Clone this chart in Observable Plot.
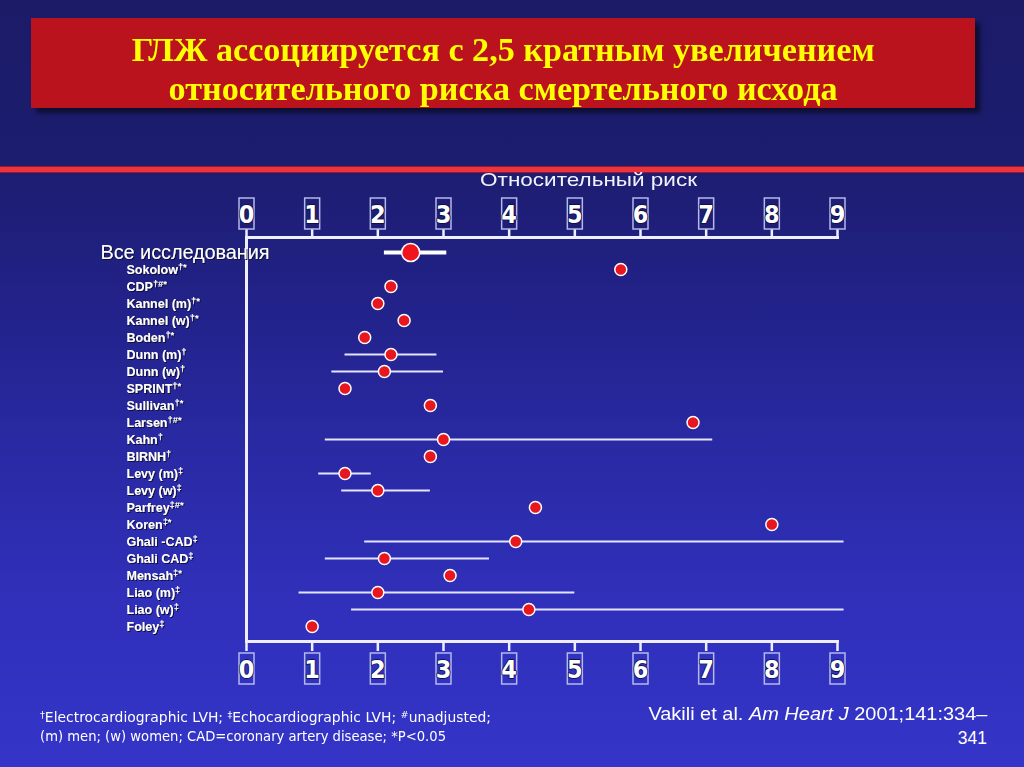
<!DOCTYPE html>
<html>
<head>
<meta charset="utf-8">
<script src="https://cdn.jsdelivr.net/npm/d3@7"></script>
<script src="https://cdn.jsdelivr.net/npm/@observablehq/plot@0.6"></script>
<style>
  html, body { margin:0; padding:0; }
  body {
    width:1024px; height:767px; overflow:hidden; position:relative;
    background: linear-gradient(to bottom, #1b1b68 0%, #1d1d70 22%, #22228a 40%, #2a2aa6 60%, #3030bc 80%, #3434c8 100%);
    font-family: "Liberation Sans", Arial, sans-serif;
  }
  #titlebox {
    position:absolute; left:31px; top:18px; width:944px; height:90px;
    background:#ba131d; box-shadow: 5px 5px 5px rgba(0,0,0,0.55);
  }
  .tline {
    position:absolute; left:0; width:944px; text-align:center;
    font-family:"Liberation Serif","Times New Roman",serif; font-weight:bold; font-size:33px;
    color:#ffff00; white-space:nowrap; line-height:1;
  }
  .tline span { display:inline-block; transform-origin:center; }
  #stripe {
    position:absolute; left:0; top:166px; width:1024px; height:5px;
    background:#ec343c; border-top:1px solid #9a1630; border-bottom:1px solid #9a1630;
  }
  #chart { position:absolute; left:0; top:0; }
  #xlabel {
    position:absolute; left:389px; width:400px; top:170px; text-align:center;
    font-size:19px; color:#f2f2ff; white-space:nowrap; line-height:1;
  }
  #xlabel span, .fn span, .cite span { display:inline-block; }
  .fn {
    position:absolute; left:40px; font-size:13.5px; color:#ffffff; white-space:nowrap; line-height:1;
    font-family:"Liberation Sans Narrow","DejaVu Sans Condensed","Liberation Sans",sans-serif;
  }
  .fn span { transform-origin:left center; }
  .fn sup { font-size:0.7em; vertical-align: 0.45em; line-height:0; }
  .cite {
    position:absolute; right:37px; font-size:17.5px; color:#ffffff; white-space:nowrap; line-height:1; text-align:right;
  }
  .cite span { transform-origin:right center; }
</style>
</head>
<body>
<div id="titlebox">
  <div class="tline" style="top:16px"><span id="t1"></span></div>
  <div class="tline" style="top:55px"><span id="t2"></span></div>
</div>
<div id="stripe"></div>
<div id="chart"></div>
<div id="xlabel"><span id="xl"></span></div>
<div class="fn" style="top:711px"><span id="fn1"></span></div>
<div class="fn" style="top:730px"><span id="fn2"></span></div>
<div class="cite" style="top:706px"><span id="c1"></span></div>
<div class="cite" style="top:730px"><span id="c2"></span></div>
<script>
// ---------- data ----------
const titleLines = ["ГЛЖ ассоциируется с 2,5 кратным увеличением", "относительного риска смертельного исхода"];
const axisTitle = "Относительный риск";
const tickValues = [0, 1, 2, 3, 4, 5, 6, 7, 8, 9];
const tickLabels = ["0", "1", "2", "3", "4", "5", "6", "7", "8", "9"];

const studies = ["Все исследования", "Sokolow", "CDP", "Kannel (m)", "Kannel (w)", "Boden", "Dunn (m)", "Dunn (w)",
  "SPRINT", "Sullivan", "Larsen", "Kahn", "BIRNH", "Levy (m)", "Levy (w)", "Parfrey", "Koren",
  "Ghali -CAD", "Ghali CAD", "Mensah", "Liao (m)", "Liao (w)", "Foley"];
const notes = ["", "†*", "†#*", "†*", "†*", "†*", "†", "†", "†*", "†*", "†#*", "†", "†", "‡", "‡", "‡#*", "‡*",
  "‡", "‡", "‡*", "‡", "‡", "‡"];
const riskRatio = [2.5, 5.7, 2.2, 2.0, 2.4, 1.8, 2.2, 2.1, 1.5, 2.8, 6.8, 3.0, 2.8, 1.5, 2.0, 4.4, 8.0,
  4.1, 2.1, 3.1, 2.0, 4.3, 1.0];
const ciLow  = [2.1, null, null, null, null, null, 1.5, 1.3, null, null, null, 1.2, null, 1.1, 1.45, null, null,
  1.8, 1.2, null, 0.8, 1.6, null];
const ciHigh = [3.05, null, null, null, null, null, 2.9, 3.0, null, null, null, 7.1, null, 1.9, 2.8, null, null,
  9.1, 3.7, null, 5.0, 9.1, null];

const footnote1 = "<sup>†</sup>Electrocardiographic LVH; <sup>‡</sup>Echocardiographic LVH; <sup>#</sup>unadjusted;";
const footnote2 = "(m) men; (w) women; CAD=coronary artery disease; *P&lt;0.05";
const cite1 = "Vakili et al. <i>Am Heart J</i> 2001;141:334–";
const cite2 = "341";

// ---------- table ----------
const rows = studies.map((s, i) => ({
  study: s, label: s + notes[i], rr: riskRatio[i], lo: ciLow[i], hi: ciHigh[i], pooled: i === 0
}));
const pooled = rows.filter(d => d.pooled);
const single = rows.filter(d => !d.pooled);
const withCI = rows.filter(d => d.lo != null);

const boxSymbol = { draw(ctx) { ctx.rect(-7.5, -15.5, 15, 31); } };
const narrow = "'Liberation Sans Narrow','DejaVu Sans Condensed','Liberation Sans',sans-serif";
const axisColor = "#eeeeff";

const chart = Plot.plot({
  width: 1024, height: 767,
  marginLeft: 246, marginRight: 187, marginTop: 237, marginBottom: 126,
  x: { domain: [0, 9] },
  y: { type: "point", domain: studies, padding: 0.82, axis: null },
  style: { background: "transparent", overflow: "visible", fontFamily: "'Liberation Sans', Arial, sans-serif" },
  marks: [
    Plot.frame({ anchor: "top", stroke: axisColor, strokeWidth: 3 }),
    Plot.frame({ anchor: "bottom", stroke: axisColor, strokeWidth: 3 }),
    Plot.frame({ anchor: "left", stroke: axisColor, strokeWidth: 3 }),
    Plot.axisX(tickValues, { anchor: "top", tickSize: 9, stroke: axisColor, strokeWidth: 2.5, tickFormat: () => "", label: null }),
    Plot.axisX(tickValues, { anchor: "bottom", tickSize: 10, stroke: axisColor, strokeWidth: 2.5, tickFormat: () => "", label: null }),
    // tick label boxes
    Plot.dot(tickValues, { x: d => d, frameAnchor: "top", dy: -24, symbol: boxSymbol, fill: "#1e1e74", stroke: "#b4b8ea", strokeWidth: 1.5 }),
    Plot.dot(tickValues, { x: d => d, frameAnchor: "bottom", dy: 27, symbol: boxSymbol, fill: "#3232c0", stroke: "#b4b8ea", strokeWidth: 1.5 }),
    Plot.text(tickValues, { x: d => d, frameAnchor: "top", dy: -23, text: (d, i) => tickLabels[i], fontSize: 25, fontWeight: "bold",
      fontFamily: narrow, fill: "white", stroke: "#0c0c3c", strokeWidth: 1.5, lineAnchor: "middle" }),
    Plot.text(tickValues, { x: d => d, frameAnchor: "bottom", dy: 28, text: (d, i) => tickLabels[i], fontSize: 25, fontWeight: "bold",
      fontFamily: narrow, fill: "white", stroke: "#0c0c3c", strokeWidth: 1.5, lineAnchor: "middle" }),
    // confidence intervals
    Plot.ruleY(withCI.filter(d => !d.pooled), { y: "study", x1: "lo", x2: "hi", stroke: "#e4e4ff", strokeWidth: 2 }),
    Plot.ruleY(withCI.filter(d => d.pooled), { y: "study", x1: "lo", x2: "hi", stroke: "white", strokeWidth: 4 }),
    // points
    Plot.dot(single, { x: "rr", y: "study", r: 6, fill: "#e8161e", stroke: "white", strokeWidth: 1.5 }),
    Plot.dot(pooled, { x: "rr", y: "study", r: 9, fill: "#f0141c", stroke: "white", strokeWidth: 1.5 }),
    // labels
    Plot.text(single, { y: "study", text: "label", frameAnchor: "left", dx: -120, textAnchor: "start",
      fontSize: 12.5, fontWeight: "bold", fill: "white" }),
    Plot.text(pooled, { y: "study", text: "label", frameAnchor: "left", dx: -146, textAnchor: "start",
      fontSize: 19.8, fill: "white" })
  ]
});
document.getElementById("chart").appendChild(chart);

// drop shadow filter + superscript markers for study labels
const ns = "http://www.w3.org/2000/svg";
const defs = document.createElementNS(ns, "defs");
defs.innerHTML = '<filter id="txtshadow" x="-5%" y="-20%" width="115%" height="150%"><feDropShadow dx="1" dy="1" stdDeviation="0.3" flood-color="#0a0a38" flood-opacity="1"/></filter>';
chart.insertBefore(defs, chart.firstChild);
const labelSet = new Set(rows.map(d => d.label));
chart.querySelectorAll("text").forEach(t => {
  const s = t.textContent;
  if (!labelSet.has(s)) return;
  t.setAttribute("filter", "url(#txtshadow)");
  const i = s.search(/[†‡#*]/);
  if (i < 0) return;
  while (t.firstChild) t.removeChild(t.firstChild);
  t.appendChild(document.createTextNode(s.slice(0, i)));
  const ts = document.createElementNS(ns, "tspan");
  ts.setAttribute("dy", "-0.4em");
  ts.setAttribute("font-size", "0.75em");
  ts.textContent = s.slice(i);
  t.appendChild(ts);
});

// html texts
function fit(el, target) {
  const w = el.getBoundingClientRect().width;
  if (w > 0) el.style.transform = `scaleX(${target / w})`;
}
document.getElementById("t1").textContent = titleLines[0];
document.getElementById("t2").textContent = titleLines[1];
document.getElementById("xl").textContent = axisTitle;
document.getElementById("fn1").innerHTML = footnote1;
document.getElementById("fn2").innerHTML = footnote2;
document.getElementById("c1").innerHTML = cite1;
document.getElementById("c2").innerHTML = cite2;
fit(document.getElementById("t1"), 743);
fit(document.getElementById("t2"), 669);
fit(document.getElementById("xl"), 217);
fit(document.getElementById("fn1"), 451);
fit(document.getElementById("fn2"), 406);
fit(document.getElementById("c1"), 339);
</script>
</body>
</html>
